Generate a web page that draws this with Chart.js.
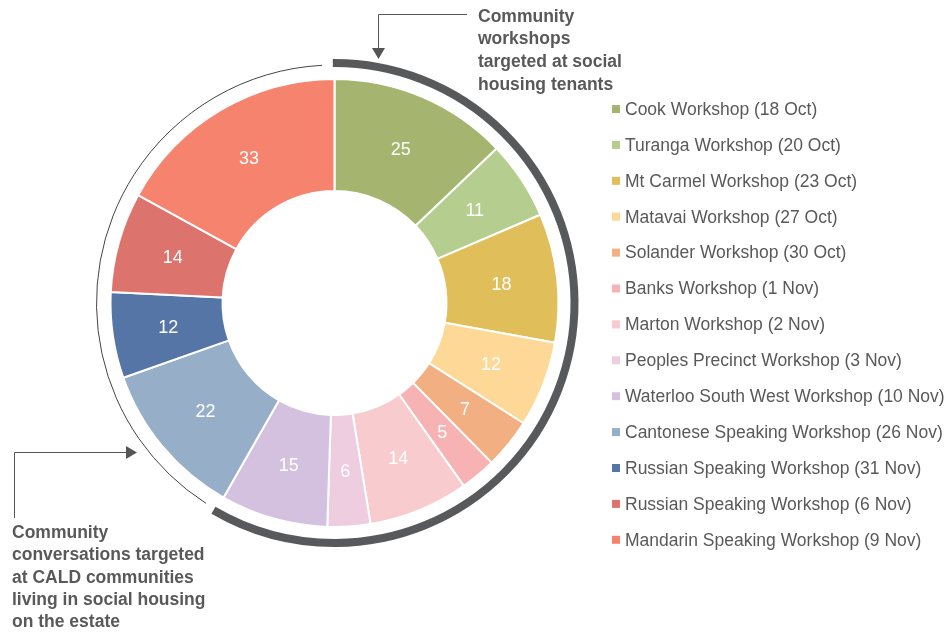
<!DOCTYPE html>
<html>
<head>
<meta charset="utf-8">
<script src="https://cdn.jsdelivr.net/npm/chart.js@4.4.0/dist/chart.umd.min.js"></script>
<style>
  html, body { margin: 0; padding: 0; background: #fff; }
  #wrap { position: relative; width: 946px; height: 632px; }
</style>
</head>
<body>
<div id="wrap"><canvas id="chart" width="946" height="632"></canvas></div>
<script>
// ---- data ----
const labels = [
    'Cook Workshop (18 Oct)',
    'Turanga Workshop (20 Oct)',
    'Mt Carmel Workshop (23 Oct)',
    'Matavai Workshop (27 Oct)',
    'Solander Workshop (30 Oct)',
    'Banks Workshop (1 Nov)',
    'Marton Workshop (2 Nov)',
    'Peoples Precinct Workshop (3 Nov)',
    'Waterloo South West Workshop (10 Nov)',
    'Cantonese Speaking Workshop (26 Nov)',
    'Russian Speaking Workshop (31 Nov)',
    'Russian Speaking Workshop (6 Nov)',
    'Mandarin Speaking Workshop (9 Nov)'
];
const attendees = [25, 11, 18, 12, 7, 5, 14, 6, 15, 22, 12, 14, 33];
const sliceColors = [
    '#A5B56F', '#B5CD8E', '#E0BE5A', '#FED897', '#F2AF82', '#F7B2B4',
    '#F8CBCE', '#EECDE0', '#D3C1DF', '#97AEC8', '#5475A5', '#DD736D', '#F5836D'
];
// groups shown by the outer arcs (index ranges into the slices)
const workshopGroup = [0, 8];
const caldGroup = [9, 12];
const workshopNote = ['Community', 'workshops', 'targeted at social', 'housing tenants'];
const caldNote = ['Community', 'conversations targeted', 'at CALD communities', 'living in social housing', 'on the estate'];

const textColor = '#595959';
const font = 'Helvetica, "Liberation Sans", Arial, sans-serif';

// numbers inside each slice
const sliceValuePlugin = {
    id: 'sliceValues',
    afterDatasetsDraw(chart) {
        const ctx = chart.ctx;
        const meta = chart.getDatasetMeta(0);
        ctx.save();
        ctx.font = `18px ${font}`;
        ctx.fillStyle = '#ffffff';
        ctx.textAlign = 'center';
        ctx.textBaseline = 'middle';
        meta.data.forEach((arc, i) => {
            const mid = (arc.startAngle + arc.endAngle) / 2;
            const r = (arc.innerRadius + arc.outerRadius) / 2;
            ctx.fillText(String(attendees[i]), arc.x + Math.cos(mid) * r, arc.y + Math.sin(mid) * r + 1);
        });
        ctx.restore();
    }
};

// outer group arcs, notes, arrows and legend
const decorPlugin = {
    id: 'decor',
    afterDraw(chart) {
        const ctx = chart.ctx;
        const meta = chart.getDatasetMeta(0);
        const a0 = meta.data[0];
        const cx = a0.x, cy = a0.y, R = a0.outerRadius;
        const deg = Math.PI / 180;

        ctx.save();
        // thick arc round the workshops
        ctx.strokeStyle = '#58595B';
        ctx.lineWidth = 8;
        ctx.beginPath();
        ctx.arc(cx, cy, R + 16, meta.data[workshopGroup[0]].startAngle - 0.4 * deg,
            meta.data[workshopGroup[1]].endAngle + 0.6 * deg);
        ctx.stroke();

        // thin arc round the CALD conversations
        ctx.strokeStyle = '#444';
        ctx.lineWidth = 1;
        ctx.beginPath();
        ctx.arc(cx, cy, R + 14, meta.data[caldGroup[0]].startAngle + 3 * deg,
            meta.data[caldGroup[1]].endAngle - 3 * deg);
        ctx.stroke();

        // arrows
        ctx.strokeStyle = '#555';
        ctx.fillStyle = '#555';
        ctx.lineWidth = 1;
        ctx.beginPath();
        ctx.moveTo(467, 14.5);
        ctx.lineTo(378.5, 14.5);
        ctx.lineTo(378.5, 50);
        ctx.stroke();
        ctx.beginPath();
        ctx.moveTo(372, 48);
        ctx.lineTo(385, 48);
        ctx.lineTo(378.5, 59);
        ctx.closePath();
        ctx.fill();

        ctx.beginPath();
        ctx.moveTo(14.5, 518);
        ctx.lineTo(14.5, 452.5);
        ctx.lineTo(128, 452.5);
        ctx.stroke();
        ctx.beginPath();
        ctx.moveTo(126, 446);
        ctx.lineTo(126, 459);
        ctx.lineTo(137, 452.5);
        ctx.closePath();
        ctx.fill();

        // notes
        ctx.font = `bold 17.5px ${font}`;
        ctx.fillStyle = textColor;
        ctx.textAlign = 'left';
        ctx.textBaseline = 'middle';
        workshopNote.forEach((t, i) => ctx.fillText(t, 478, 17 + i * 22.6));
        caldNote.forEach((t, i) => ctx.fillText(t, 12, 533 + i * 22.4));

        // legend
        ctx.font = `17.5px ${font}`;
        const ds = chart.data.datasets[0];
        chart.data.labels.forEach((lab, i) => {
            const y = 109 + i * 35.9;
            ctx.fillStyle = ds.backgroundColor[i];
            ctx.fillRect(612, y - 4, 8, 8);
            ctx.fillStyle = textColor;
            ctx.fillText(lab, 625, y + 1);
        });
        ctx.restore();
    }
};

new Chart(document.getElementById('chart'), {
    type: 'doughnut',
    data: {
        labels: labels,
        datasets: [{
            data: attendees,
            backgroundColor: sliceColors,
            borderColor: '#ffffff',
            borderWidth: 2,
            hoverOffset: 0
        }]
    },
    options: {
        responsive: false,
        animation: false,
        cutout: '50%',
        layout: {
            padding: { left: 109, top: 78, right: 386, bottom: 104 }
        },
        plugins: {
            legend: { display: false },
            tooltip: { enabled: false }
        }
    },
    plugins: [sliceValuePlugin, decorPlugin]
});
</script>
</body>
</html>
